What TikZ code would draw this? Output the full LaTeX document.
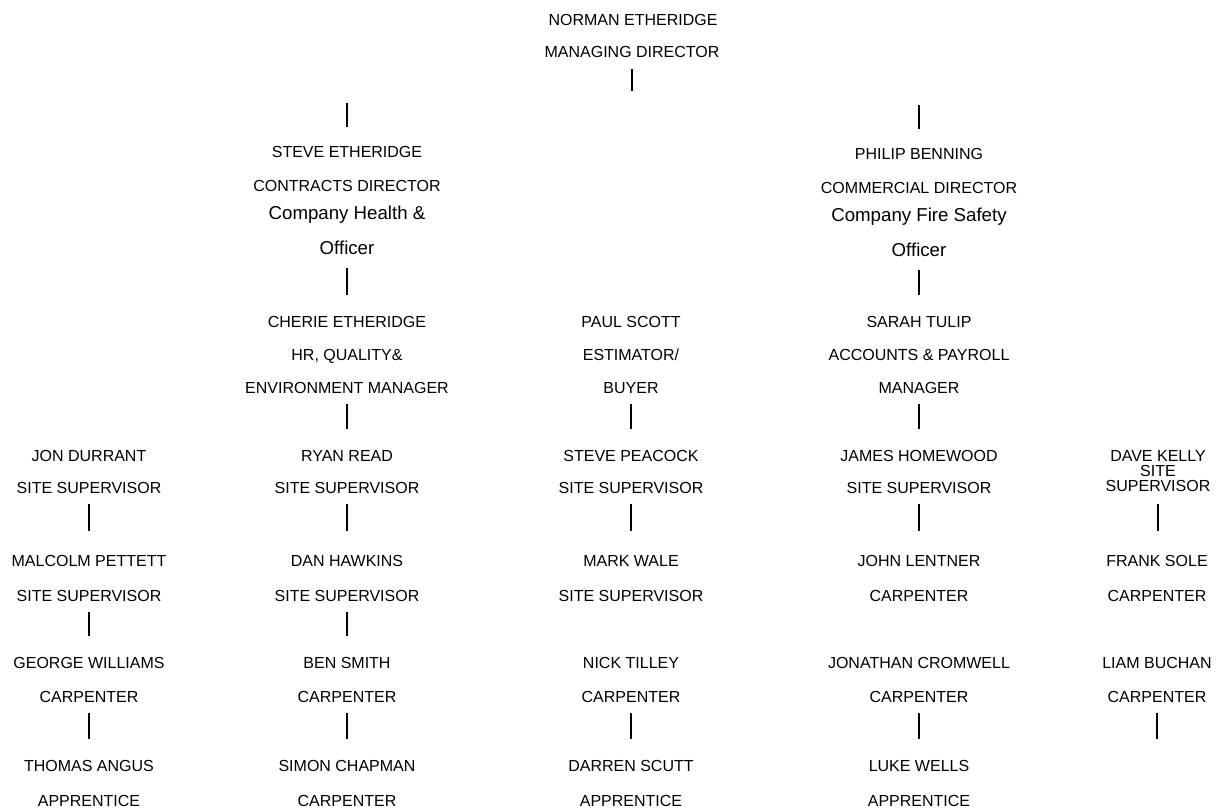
\documentclass[tikz,border=0pt]{standalone}
\usepackage{fontspec}
\setmainfont{Liberation Sans}
\usetikzlibrary{calc}
\newcommand\orgbar[4]{\draw[bar] ($(#1.base)+(0,#2)$) -- ($(#1.base |- #3.base)+(0,-#4)$);}
\begin{document}
\begin{tikzpicture}[x=0.75pt,y=-0.75pt,
  lbl/.style={anchor=base,inner sep=0pt,font=\fontsize{12}{14}\selectfont},
  mix/.style={anchor=base,inner sep=0pt,font=\fontsize{14}{16}\selectfont},
  bar/.style={line width=1pt,black}]
\useasboundingbox[fill=white] (0,0) rectangle (1218,812);
% top
\node[lbl] (ne) at (633,25.5) {NORMAN ETHERIDGE};
\node[lbl] (md) at (632,57.5) {MANAGING DIRECTOR};
% column 2
\node[lbl] (se)  at (347,157.5) {STEVE ETHERIDGE};
\node[lbl] (cd)  at (347,191.3) {CONTRACTS DIRECTOR};
\node[mix] (chs) at (347,220) {Company Health \&};
\node[mix] (cho) at (347,255) {Officer};
\node[lbl] (ce)  at (347,327.7) {CHERIE ETHERIDGE};
\node[lbl] (hq)  at (347,361) {HR, QUALITY\&};
\node[lbl] (em)  at (347,394) {ENVIRONMENT MANAGER};
\node[lbl] (rr)  at (347,461.7) {RYAN READ};
\node[lbl] (rrs) at (347,494) {SITE SUPERVISOR};
\node[lbl] (dh)  at (347,566.7) {DAN HAWKINS};
\node[lbl] (dhs) at (347,601.7) {SITE SUPERVISOR};
\node[lbl] (bs)  at (347,668.7) {BEN SMITH};
\node[lbl] (bsc) at (347,702.7) {CARPENTER};
\node[lbl] (sc)  at (347,771.7) {SIMON CHAPMAN};
\node[lbl] (scc) at (347,806.5) {CARPENTER};
% column 4
\node[lbl] (pb)  at (919,159.5) {PHILIP BENNING};
\node[lbl] (cmd) at (919,193.3) {COMMERCIAL DIRECTOR};
\node[mix] (pfs) at (919,222) {Company Fire Safety};
\node[mix] (pfo) at (919,257) {Officer};
\node[lbl] (st)  at (919,327.7) {SARAH TULIP};
\node[lbl] (ap)  at (919,361) {ACCOUNTS \& PAYROLL};
\node[lbl] (man) at (919,394) {MANAGER};
\node[lbl] (jh)  at (919,461.7) {JAMES HOMEWOOD};
\node[lbl] (jhs) at (919,494) {SITE SUPERVISOR};
\node[lbl] (jl)  at (919,566.7) {JOHN LENTNER};
\node[lbl] (jlc) at (919,601.7) {CARPENTER};
\node[lbl] (jc)  at (919,668.7) {JONATHAN CROMWELL};
\node[lbl] (jcc) at (919,702.7) {CARPENTER};
\node[lbl] (lw)  at (919,771.7) {LUKE WELLS};
\node[lbl] (lwa) at (919,806.5) {APPRENTICE};
% column 3
\node[lbl] (ps)  at (631,327.7) {PAUL SCOTT};
\node[lbl] (es)  at (631,361) {ESTIMATOR/};
\node[lbl] (bu)  at (631,394) {BUYER};
\node[lbl] (sp)  at (631,461.7) {STEVE PEACOCK};
\node[lbl] (sps) at (631,494) {SITE SUPERVISOR};
\node[lbl] (mw)  at (631,566.7) {MARK WALE};
\node[lbl] (mws) at (631,601.7) {SITE SUPERVISOR};
\node[lbl] (nt)  at (631,668.7) {NICK TILLEY};
\node[lbl] (ntc) at (631,702.7) {CARPENTER};
\node[lbl] (ds)  at (631,771.7) {DARREN SCUTT};
\node[lbl] (dsa) at (631,806.5) {APPRENTICE};
% column 1
\node[lbl] (jd)  at (89,461.7) {JON DURRANT};
\node[lbl] (jds) at (89,494) {SITE SUPERVISOR};
\node[lbl] (mp)  at (89,566.7) {MALCOLM PETTETT};
\node[lbl] (mps) at (89,601.7) {SITE SUPERVISOR};
\node[lbl] (gw)  at (89,668.7) {GEORGE WILLIAMS};
\node[lbl] (gwc) at (89,702.7) {CARPENTER};
\node[lbl] (ta)  at (89,771.7) {THOMAS ANGUS};
\node[lbl] (taa) at (89,806.5) {APPRENTICE};
% column 5
\node[lbl] (dk1) at (1158,461.7) {DAVE KELLY};
\node[lbl] (dk2) at (1158,476.7) {SITE};
\node[lbl] (dk3) at (1158,491.7) {SUPERVISOR};
\node[lbl] (fs)  at (1157,566.7) {FRANK SOLE};
\node[lbl] (fsc) at (1157,601.7) {CARPENTER};
\node[lbl] (lb)  at (1157,668.7) {LIAM BUCHAN};
\node[lbl] (lbc) at (1157,702.7) {CARPENTER};
% bars
\draw[bar] ($(md.base)+(0,12)$) -- ($(md.base)+(0,34)$);
\draw[bar] ($(se.base)+(0,-54)$) -- ($(se.base)+(0,-30)$);
\draw[bar] ($(pb.base)+(0,-54)$) -- ($(pb.base)+(0,-30)$);
\orgbar{cho}{13}{ce}{33}
\orgbar{pfo}{13}{st}{33}
\orgbar{em}{10}{rr}{33}
\orgbar{bu}{10}{sp}{33}
\orgbar{man}{10}{jh}{33}
\orgbar{jds}{10}{mp}{36}
\orgbar{rrs}{10}{dh}{36}
\orgbar{sps}{10}{mw}{36}
\orgbar{jhs}{10}{jl}{36}
\orgbar{dk3}{12}{fs}{36}
\orgbar{mps}{10}{gw}{33}
\orgbar{dhs}{10}{bs}{33}
\orgbar{gwc}{10}{ta}{33}
\orgbar{bsc}{10}{sc}{33}
\orgbar{ntc}{10}{ds}{33}
\orgbar{jcc}{10}{lw}{33}
\draw[bar] ($(lbc.base)+(0,10)$) -- ++(0,26);
\end{tikzpicture}
\end{document}
